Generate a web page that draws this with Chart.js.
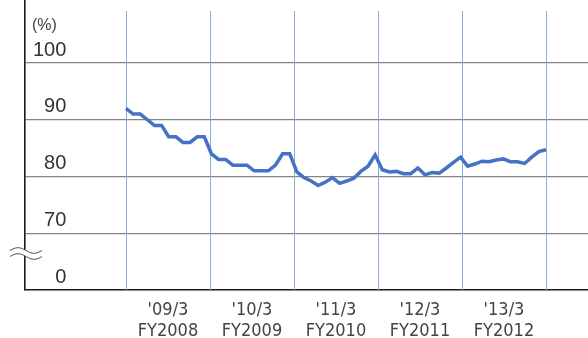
<!DOCTYPE html>
<html>
<head>
<meta charset="utf-8">
<script src="https://cdn.jsdelivr.net/npm/chart.js@4"></script>
<style>
  html, body { margin: 0; padding: 0; background: #fff; }
  canvas { display: block; }
</style>
</head>
<body>
<canvas id="chart" width="588" height="338"></canvas>
<script>
// Monthly rate (%), April 2008 to March 2013
const months = [
  '2008/4','2008/5','2008/6','2008/7','2008/8','2008/9','2008/10','2008/11','2008/12','2009/1','2009/2','2009/3',
  '2009/4','2009/5','2009/6','2009/7','2009/8','2009/9','2009/10','2009/11','2009/12','2010/1','2010/2','2010/3',
  '2010/4','2010/5','2010/6','2010/7','2010/8','2010/9','2010/10','2010/11','2010/12','2011/1','2011/2','2011/3',
  '2011/4','2011/5','2011/6','2011/7','2011/8','2011/9','2011/10','2011/11','2011/12','2012/1','2012/2','2012/3',
  '2012/4','2012/5','2012/6','2012/7','2012/8','2012/9','2012/10','2012/11','2012/12','2013/1','2013/2','2013/3'
];
const rate = [
  92, 91, 91, 90, 89, 89, 87, 87, 86, 86, 87, 87,
  84, 83, 83, 82, 82, 82, 81, 81, 81, 82, 84, 84,
  80.8, 79.8, 79.2, 78.4, 79.0, 79.8, 78.8, 79.2, 79.7, 80.9, 81.8, 83.8,
  81.2, 80.8, 80.9, 80.5, 80.5, 81.5, 80.3, 80.7, 80.6, 81.5, 82.5, 83.4,
  81.8, 82.2, 82.7, 82.6, 82.9, 83.1, 82.6, 82.6, 82.3, 83.4, 84.4, 84.7
];
const fyLabels = [
  ["'09/3", 'FY2008'],
  ["'10/3", 'FY2009'],
  ["'11/3", 'FY2010'],
  ["'12/3", 'FY2011'],
  ["'13/3", 'FY2012']
];
// 60 marks the broken-axis origin, shown as "0"
const yTicks = [60, 70, 80, 90, 100];
const yTickText = ['0', '70', '80', '90', '100'];

// fiscal-year boundaries on the month index axis, from first to last month
const lastIdx = months.length - 1;
const fyEdges = [0, 1, 2, 3, 4, 5].map(k => k * lastIdx / fyLabels.length);
const fyMid = fyLabels.map((_, k) => (fyEdges[k] + fyEdges[k + 1]) / 2);

const decor = {
  id: 'decor',
  beforeDatasetsDraw(chart) {
    const { ctx, scales: { x }, chartArea } = chart;
    ctx.save();
    ctx.strokeStyle = '#8eaadb';
    ctx.lineWidth = 1;
    fyEdges.forEach(v => {
      const px = Math.round(x.getPixelForValue(v)) + 0.5;
      ctx.beginPath();
      ctx.moveTo(px, chartArea.top + 11);
      ctx.lineTo(px, chartArea.bottom);
      ctx.stroke();
    });
    ctx.restore();
  },
  afterDraw(chart) {
    const { ctx, chartArea } = chart;
    ctx.save();
    // unit caption
    ctx.fillStyle = '#444';
    ctx.font = "16px 'Liberation Sans', Arial, sans-serif";
    ctx.textBaseline = 'middle';
    ctx.textAlign = 'left';
    ctx.fillText('(%)', 32, 25.5);

    // axis break mark
    const x0 = chartArea.left - 15, w = 32, amp = 2.8;
    const waveA = 250.5, waveB = 256.5;
    const wave = (yc, dir) => {
      const pts = [];
      for (let s = 0; s <= 32; s++) {
        const px = x0 + (w * s) / 32;
        pts.push([px, yc - amp * Math.sin((2 * Math.PI * s) / 32)]);
      }
      return dir ? pts : pts.reverse();
    };
    const top = wave(waveA, true), bot = wave(waveB, false);
    ctx.fillStyle = '#fff';
    ctx.beginPath();
    top.concat(bot).forEach(([px, py], i) => (i ? ctx.lineTo(px, py) : ctx.moveTo(px, py)));
    ctx.closePath();
    ctx.fill();
    ctx.strokeStyle = '#555';
    ctx.lineWidth = 1;
    [wave(waveA, true), wave(waveB, true)].forEach(pts => {
      ctx.beginPath();
      pts.forEach(([px, py], i) => (i ? ctx.lineTo(px, py) : ctx.moveTo(px, py)));
      ctx.stroke();
    });
    ctx.restore();
  }
};

new Chart(document.getElementById('chart'), {
  type: 'line',
  data: {
    datasets: [{
      label: 'rate',
      data: rate.map((v, i) => ({ x: i, y: v })),
      borderColor: '#4472c4',
      borderWidth: 3.5,
      pointRadius: 0,
      tension: 0,
      fill: false
    }]
  },
  options: {
    responsive: false,
    animation: false,
    devicePixelRatio: 1,
    layout: { padding: { left: 25, right: 0, top: 0, bottom: 0 } },
    plugins: { legend: { display: false }, tooltip: { enabled: false } },
    scales: {
      x: {
        type: 'linear',
        min: -14.19,
        max: 64.9,
        afterFit(s) { s.height = 48; s.paddingLeft = 0; s.paddingRight = 0; },
        afterBuildTicks(s) { s.ticks = fyMid.map(v => ({ value: v })); },
        grid: { display: false, drawTicks: false },
        border: { display: true, color: '#1a1a1a', width: 1.6 },
        ticks: {
          autoSkip: false,
          maxRotation: 0,
          padding: 10,
          color: '#444',
          font: { family: "'Liberation Sans Narrow', 'DejaVu Sans Condensed', sans-serif", size: 18, lineHeight: 1.17 },
          callback: (v, i) => fyLabels[i]
        }
      },
      y: {
        type: 'linear',
        min: 60,
        max: 111.1,
        afterFit(s) { s.width = 0; s.paddingTop = 0; s.paddingBottom = 0; },
        afterBuildTicks(s) { s.ticks = yTicks.map(v => ({ value: v })); },
        grid: {
          drawTicks: false,
          lineWidth: 1.3,
          color: c => (c.tick && c.tick.value === 60 ? 'rgba(0,0,0,0)' : '#858585')
        },
        border: { display: true, color: '#1a1a1a', width: 1.6 },
        ticks: {
          mirror: true,
          crossAlign: 'far',
          padding: 8,
          labelOffset: -13,
          color: '#333',
          font: { family: "'Liberation Sans', Arial, sans-serif", size: 20 },
          callback: (v, i) => yTickText[i]
        }
      }
    }
  },
  plugins: [decor]
});
</script>
</body>
</html>
